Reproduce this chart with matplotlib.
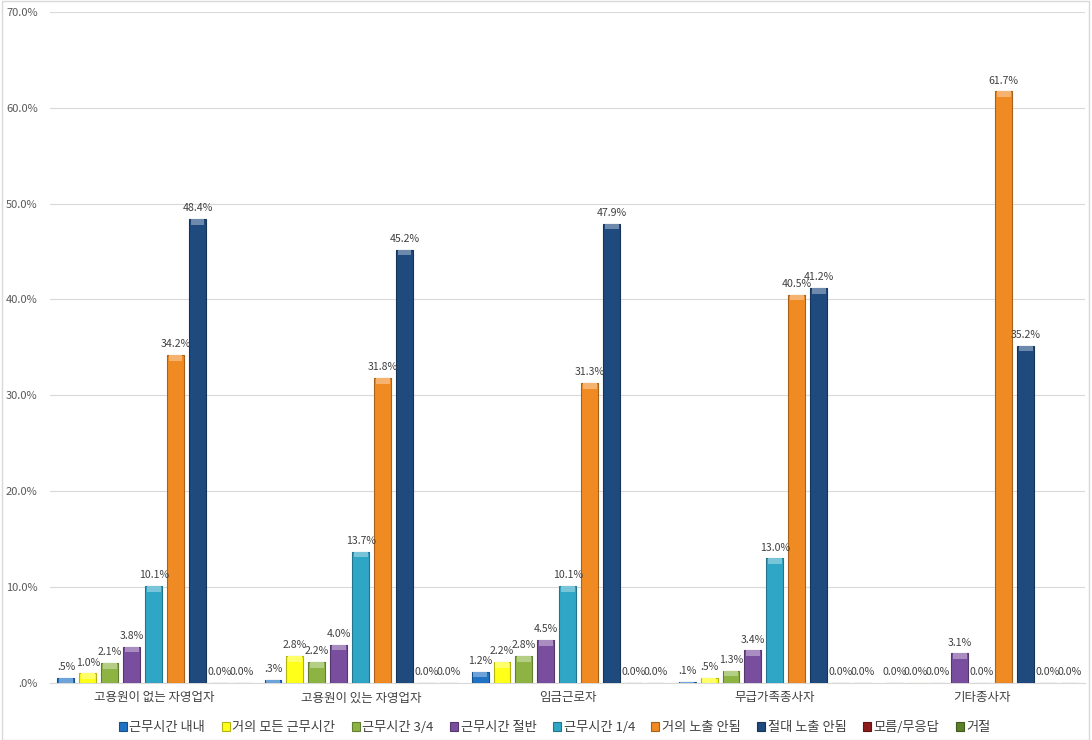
import matplotlib.pyplot as plt
import matplotlib.colors as mcolors
import numpy as np

plt.rcParams['font.family'] = ['Noto Sans CJK KR', 'DejaVu Sans']

categories = ["고용원이 없는 자영업자", "고용원이 있는 자영업자", "임금근로자", "무급가족종사자", "기타종사자"]
series_names = ["근무시간 내내", "거의 모든 근무시간", "근무시간 3/4", "근무시간 절반", "근무시간 1/4",
                "거의 노출 안됨", "절대 노출 안됨", "모름/무응답", "거절"]
colors = ["#1F72C4", "#FFFF1A", "#8DB443", "#7A4E9E", "#2FA6C6",
          "#F08A22", "#1F4A7E", "#8C1C1C", "#5C7F2A"]

# values per series (%), one entry per category
v_allday = [0.5, 0.3, 1.2, 0.1, 0.0]
v_most = [1.0, 2.8, 2.2, 0.5, 0.0]
v_three_q = [2.1, 2.2, 2.8, 1.3, 0.0]
v_half = [3.8, 4.0, 4.5, 3.4, 3.1]
v_quarter = [10.1, 13.7, 10.1, 13.0, 0.0]
v_rarely = [34.2, 31.8, 31.3, 40.5, 61.7]
v_never = [48.4, 45.2, 47.9, 41.2, 35.2]
v_unknown = [0.0, 0.0, 0.0, 0.0, 0.0]
v_refused = [0.0, 0.0, 0.0, 0.0, 0.0]
series_values = [v_allday, v_most, v_three_q, v_half, v_quarter,
                 v_rarely, v_never, v_unknown, v_refused]


def fmt(v):
    if v == 0:
        return "0.0%"
    if v < 1:
        return ".%d%%" % round(v * 10)
    return "%.1f%%" % v


fig = plt.figure(figsize=(10.92, 7.40), dpi=100)
ax = fig.add_axes([0.046, 0.077, 0.948, 0.907])

x = np.arange(len(categories))
step = 0.106
width = 0.082
for i, (name, vals, c) in enumerate(zip(series_names, series_values, colors)):
    pos = x + (i - 4) * step
    rgb = np.array(mcolors.to_rgb(c))
    edge = tuple(rgb * 0.7)
    light = tuple(rgb + (1 - rgb) * 0.35)
    ax.bar(pos, vals, width, color=c, edgecolor=edge, linewidth=0.8, label=name, zorder=3)
    # lighter cap on top of each bar (bevel look)
    caps = [min(v, 0.6) for v in vals]
    ax.bar(pos, caps, width * 0.8, bottom=[v - cp for v, cp in zip(vals, caps)],
           color=light, linewidth=0, zorder=3.5)
    for p, v in zip(pos, vals):
        ax.text(p, v + 0.6, fmt(v), ha='center', va='bottom', fontsize=7.6, color='#404040', zorder=4)

ax.set_ylim(0, 70)
ax.set_xlim(-0.5, len(categories) - 0.5)
ax.set_yticks(np.arange(0, 71, 10))
ax.set_yticklabels([".0%"] + ["%.1f%%" % t for t in range(10, 71, 10)])
ax.set_xticks(x)
ax.set_xticklabels(categories)
ax.tick_params(axis='y', length=0, labelsize=8, labelcolor='#595959', pad=9)
ax.tick_params(axis='x', length=0, labelsize=9, labelcolor='#404040', pad=6)
ax.grid(axis='y', color='#D9D9D9', linewidth=0.8, zorder=0)
for s in ['top', 'right', 'left']:
    ax.spines[s].set_visible(False)
ax.spines['bottom'].set_color('#D9D9D9')

leg = fig.legend(loc='lower center', ncol=9, frameon=False, fontsize=9.5,
                 bbox_to_anchor=(0.508, -0.008), handlelength=0.6, handleheight=0.6,
                 handletextpad=0.2, columnspacing=1.25)
for t in leg.get_texts():
    t.set_color('#404040')

fig.patches.append(plt.Rectangle((0.002, 0.0), 0.995, 0.999, transform=fig.transFigure,
                                 fill=False, edgecolor='#D9D9D9', linewidth=1))

fig.savefig("out.png", dpi=100)
